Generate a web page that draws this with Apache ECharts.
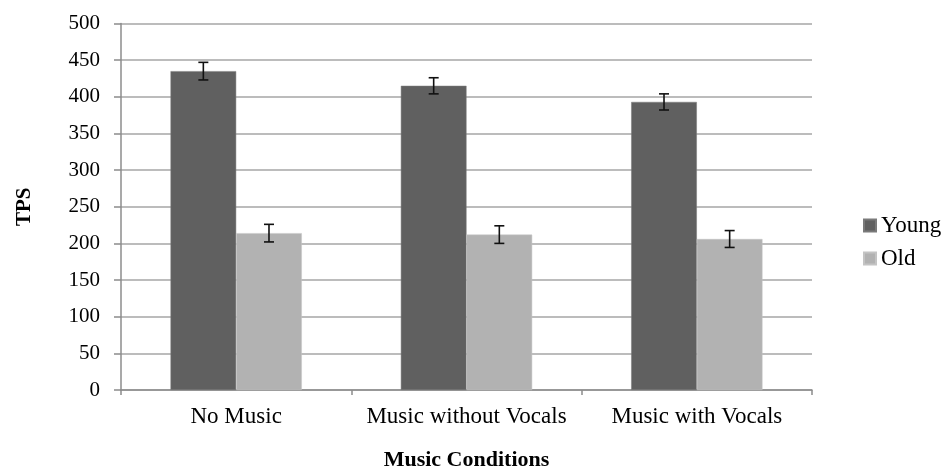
<!DOCTYPE html>
<html>
<head>
<meta charset="utf-8">
<script src="https://cdn.jsdelivr.net/npm/echarts@6/dist/echarts.min.js"></script>
<style>
  html, body { margin: 0; padding: 0; background: #fff; }
  #chart { width: 943px; height: 469px; }
</style>
</head>
<body>
<div id="chart"></div>
<script>
// Music conditions and mean TPS per age group, with error margins
const categories = ['No Music', 'Music without Vocals', 'Music with Vocals'];
const youngValues = [435, 415, 393];
const oldValues = [214, 212, 206];
const youngErrors = [12, 11, 11];
const oldErrors = [12, 12, 11.5];
const yTicks = [0, 50, 100, 150, 200, 250, 300, 350, 400, 450, 500];

const FONT = '"Liberation Serif", "Times New Roman", serif';
const CATEGORY_GAP = 0.43;

const chart = echarts.init(document.getElementById('chart'));

// Error bar drawn at the centre of one bar in a two-bar group
function errorBarRenderer(values, errors, side) {
  return function (params, api) {
    const idx = api.value(0);
    const val = values[idx];
    const err = errors[idx];
    const band = api.size([1, 0])[0];
    const barW = band * (1 - CATEGORY_GAP) / 2;
    const center = api.coord([idx, val]);
    const x = center[0] + side * barW / 2;
    const top = api.coord([idx, val + err])[1];
    const bottom = api.coord([idx, val - err])[1];
    const cap = 5;
    const style = { stroke: '#111', lineWidth: 1.6 };
    return {
      type: 'group',
      children: [
        { type: 'line', shape: { x1: x, y1: top, x2: x, y2: bottom }, style },
        { type: 'line', shape: { x1: x - cap, y1: top, x2: x + cap, y2: top }, style },
        { type: 'line', shape: { x1: x - cap, y1: bottom, x2: x + cap, y2: bottom }, style }
      ]
    };
  };
}

chart.setOption({
  animation: false,
  textStyle: { fontFamily: FONT },
  grid: { left: 121, right: 131, top: 23.5, bottom: 79, containLabel: false, outerBoundsMode: 'none' },
  legend: {
    orient: 'vertical',
    left: 858,
    top: 209,
    itemWidth: 12,
    itemHeight: 12,
    itemGap: 10,
    icon: 'rect',
    textStyle: { fontFamily: FONT, fontSize: 23, color: '#000', padding: [0, 0, 0, 0] },
    data: ['Young', 'Old']
  },
  xAxis: {
    type: 'category',
    data: categories,
    name: 'Music Conditions',
    nameLocation: 'middle',
    nameGap: 59,
    nameTextStyle: { fontFamily: FONT, fontSize: 22, fontWeight: 'bold', color: '#000' },
    axisLine: { lineStyle: { color: '#8c8c8c', width: 1.5 } },
    axisTick: { show: true, length: 5, lineStyle: { color: '#8c8c8c', width: 1.5 } },
    axisLabel: { fontFamily: FONT, fontSize: 23, color: '#000', margin: 15, interval: 0 }
  },
  yAxis: {
    type: 'value',
    min: 0,
    max: 500,
    interval: 50,
    name: 'TPS',
    nameLocation: 'middle',
    nameGap: 86,
    nameRotate: 90,
    nameTextStyle: { fontFamily: FONT, fontSize: 21, fontWeight: 'bold', color: '#000' },
    axisLine: { show: true, lineStyle: { color: '#8c8c8c', width: 1.5 } },
    axisTick: { show: true, length: 7, lineStyle: { color: '#8c8c8c', width: 1.5 } },
    splitLine: { lineStyle: { color: '#a6a6a6', width: 1.5 } },
    axisLabel: {
      fontFamily: FONT, fontSize: 21, color: '#000', margin: 21,
      formatter: v => (yTicks.includes(v) ? String(v) : '')
    }
  },
  series: [
    {
      name: 'Young',
      type: 'bar',
      data: youngValues,
      barGap: '0%',
      barCategoryGap: (CATEGORY_GAP * 100) + '%',
      itemStyle: { color: '#606060', borderColor: '#7a7a7a', borderWidth: 0.5 }
    },
    {
      name: 'Old',
      type: 'bar',
      data: oldValues,
      barGap: '0%',
      barCategoryGap: (CATEGORY_GAP * 100) + '%',
      itemStyle: { color: '#b2b2b2', borderColor: '#c4c4c4', borderWidth: 0.5 }
    },
    {
      type: 'custom',
      name: 'youngErr',
      renderItem: errorBarRenderer(youngValues, youngErrors, -1),
      data: categories.map((c, i) => [i, youngValues[i]]),
      z: 10,
      silent: true
    },
    {
      type: 'custom',
      name: 'oldErr',
      renderItem: errorBarRenderer(oldValues, oldErrors, 1),
      data: categories.map((c, i) => [i, oldValues[i]]),
      z: 10,
      silent: true
    }
  ]
});
</script>
</body>
</html>
